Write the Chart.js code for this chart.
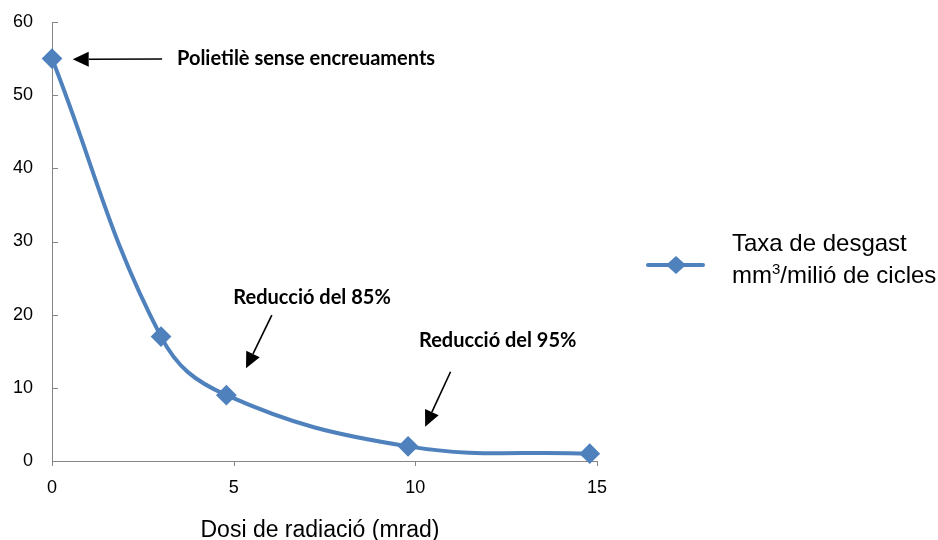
<!DOCTYPE html>
<html>
<head>
<meta charset="utf-8">
<script src="https://cdn.jsdelivr.net/npm/chart.js@4.4.1/dist/chart.umd.min.js"></script>
<style>
  html, body { margin: 0; padding: 0; background: #ffffff; }
  #wrap { width: 938px; height: 540px; }
</style>
</head>
<body>
<div id="wrap"><canvas id="chart" width="938" height="540"></canvas></div>
<script>
// Wear rate of polyethylene against radiation dose
const doseMrad = [0, 3, 4.8, 9.8, 14.8];
const wearRate = [55, 17, 9, 2, 1];
const xTickValues = [0, 5, 10, 15];
const yTickValues = [0, 10, 20, 30, 40, 50, 60];
const seriesLines = ['Taxa de desgast', 'mm\u00B3/mili\u00F3 de cicles'];
const xAxisTitle = 'Dosi de radiaci\u00F3 (mrad)';
const noteTexts = ['Polietil\u00E8 sense encreuaments', 'Reducci\u00F3 del 85%', 'Reducci\u00F3 del 95%'];

const BLUE = '#4F81BD';
const AXIS = '#868686';

// where each callout sits, in axis units: text anchor, arrow tail, arrow tip
const notePlacement = [
  { text: [3.44, 55.0], tail: [3.03, 54.94], tip: [0.57, 54.9] },
  { text: [4.99, 22.4], tail: [6.05, 19.95], tip: [5.34, 12.67] },
  { text: [10.1, 16.44], tail: [10.97, 12.2], tip: [10.27, 4.69] }
];

function drawArrow(ctx, x1, y1, x2, y2) {
  const ang = Math.atan2(y2 - y1, x2 - x1);
  const headLen = 16, headHalf = 7.5;
  const bx = x2 - headLen * Math.cos(ang), by = y2 - headLen * Math.sin(ang);
  ctx.beginPath();
  ctx.moveTo(x1, y1);
  ctx.lineTo(bx, by);
  ctx.strokeStyle = '#000';
  ctx.lineWidth = 1.6;
  ctx.stroke();
  ctx.beginPath();
  ctx.moveTo(x2, y2);
  ctx.lineTo(bx + headHalf * Math.sin(ang), by - headHalf * Math.cos(ang));
  ctx.lineTo(bx - headHalf * Math.sin(ang), by + headHalf * Math.cos(ang));
  ctx.closePath();
  ctx.fillStyle = '#000';
  ctx.fill();
}

const extras = {
  id: 'extras',
  afterDraw(chart) {
    const ctx = chart.ctx;
    const xs = chart.scales.x, ys = chart.scales.y;
    const area = chart.chartArea;
    ctx.save();

    // small tick marks: inward on the value axis, downward on the dose axis
    ctx.strokeStyle = AXIS;
    ctx.lineWidth = 1;
    yTickValues.forEach(v => {
      const py = Math.round(ys.getPixelForValue(v)) + 0.5;
      ctx.beginPath();
      ctx.moveTo(area.left, py);
      ctx.lineTo(area.left + 6, py);
      ctx.stroke();
    });
    xTickValues.forEach(v => {
      const px = Math.round(xs.getPixelForValue(v)) + 0.5;
      ctx.beginPath();
      ctx.moveTo(px, area.bottom);
      ctx.lineTo(px, area.bottom + 5);
      ctx.stroke();
    });

    // callouts
    ctx.font = 'bold 20px Lato, "Open Sans", sans-serif';
    ctx.fillStyle = '#000';
    ctx.textBaseline = 'middle';
    ctx.textAlign = 'left';
    noteTexts.forEach((t, i) => {
      const p = notePlacement[i];
      ctx.fillText(t, xs.getPixelForValue(p.text[0]), ys.getPixelForValue(p.text[1]));
      drawArrow(ctx,
        xs.getPixelForValue(p.tail[0]), ys.getPixelForValue(p.tail[1]),
        xs.getPixelForValue(p.tip[0]), ys.getPixelForValue(p.tip[1]));
    });

    // legend on the right
    const lx = 648, ly = 265;
    ctx.strokeStyle = BLUE;
    ctx.lineWidth = 4;
    ctx.lineCap = 'round';
    ctx.beginPath();
    ctx.moveTo(lx, ly);
    ctx.lineTo(lx + 55, ly);
    ctx.stroke();
    ctx.fillStyle = BLUE;
    ctx.beginPath();
    ctx.moveTo(lx + 18, ly);
    ctx.lineTo(lx + 28, ly - 9);
    ctx.lineTo(lx + 38, ly);
    ctx.lineTo(lx + 28, ly + 9);
    ctx.closePath();
    ctx.fill();

    ctx.fillStyle = '#000';
    ctx.textBaseline = 'alphabetic';
    ctx.font = '24px "Liberation Sans", Arial, sans-serif';
    ctx.fillText(seriesLines[0], 732, 251);
    // second line with a raised cube sign
    const l2 = seriesLines[1];
    const supIdx = l2.indexOf('\u00B3');
    const before = l2.slice(0, supIdx), after = l2.slice(supIdx + 1);
    let cx = 732;
    ctx.fillText(before, cx, 283);
    cx += ctx.measureText(before).width;
    ctx.font = '15px "Liberation Sans", Arial, sans-serif';
    ctx.fillText('3', cx, 274);
    cx += ctx.measureText('3').width;
    ctx.font = '24px "Liberation Sans", Arial, sans-serif';
    ctx.fillText(after, cx, 283);

    // dose axis title
    ctx.font = '23px "Liberation Sans", Arial, sans-serif';
    ctx.textAlign = 'center';
    ctx.fillText(xAxisTitle, 320, 537);

    ctx.restore();
  }
};

new Chart(document.getElementById('chart'), {
  type: 'line',
  data: {
    datasets: [{
      label: seriesLines.join(' '),
      data: doseMrad.map((d, i) => ({ x: d, y: wearRate[i] })),
      borderColor: BLUE,
      backgroundColor: BLUE,
      borderWidth: 4,
      tension: 0.4,
      pointStyle: 'rectRot',
      pointRadius: 9,
      pointBorderWidth: 2,
      pointBorderColor: BLUE,
      pointBackgroundColor: BLUE,
      clip: false
    }]
  },
  options: {
    responsive: false,
    animation: false,
    devicePixelRatio: 1,
    layout: { padding: { top: 22, right: 341, left: 0, bottom: 0 } },
    plugins: { legend: { display: false }, tooltip: { enabled: false } },
    scales: {
      x: {
        type: 'linear',
        min: 0, max: 15,
        afterBuildTicks: s => { s.ticks = xTickValues.map(v => ({ value: v })); },
        afterFit: s => { s.height = 79; s.paddingLeft = 0; s.paddingRight = 0; },
        grid: { display: false, drawTicks: false },
        border: { display: true, color: AXIS, width: 1 },
        ticks: { padding: 16, color: '#000', font: { family: '"Liberation Sans", Arial, sans-serif', size: 18 } }
      },
      y: {
        min: 0, max: 60,
        afterBuildTicks: s => { s.ticks = yTickValues.map(v => ({ value: v })); },
        afterFit: s => { s.width = 52; s.paddingTop = 0; s.paddingBottom = 0; },
        grid: { display: false, drawTicks: false },
        border: { display: true, color: AXIS, width: 1 },
        ticks: { padding: 19, color: '#000', font: { family: '"Liberation Sans", Arial, sans-serif', size: 18 } }
      }
    }
  },
  plugins: [extras]
});
</script>
</body>
</html>
